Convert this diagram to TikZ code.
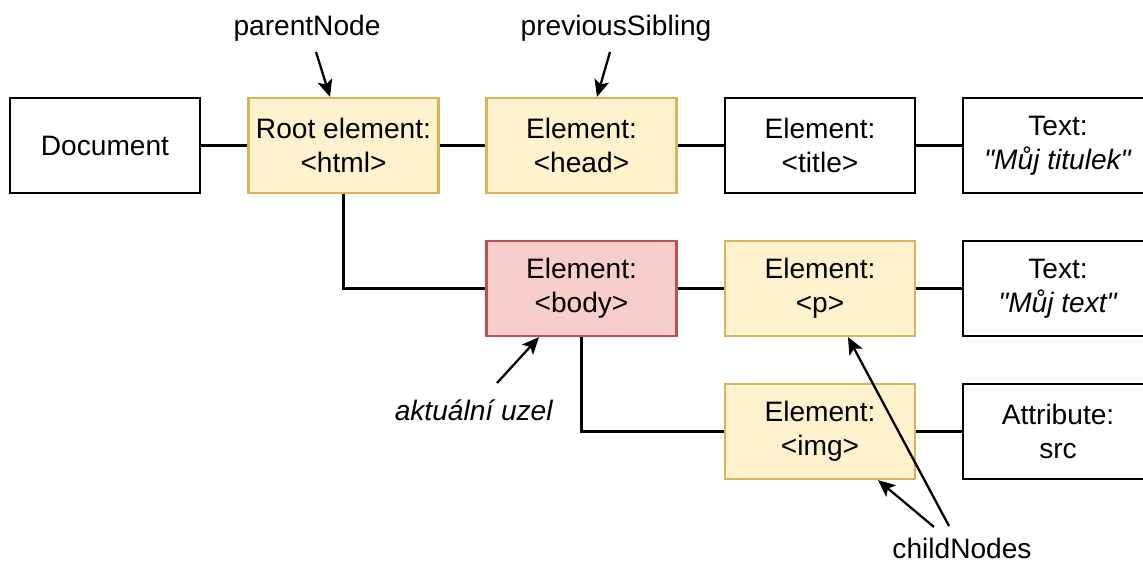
\documentclass[tikz,border=0pt]{standalone}
\usepackage{fontspec}
\setmainfont{Liberation Sans}
\usepackage{tikz}
\usepackage{xcolor}
\usetikzlibrary{
    arrows.meta,
    shapes
}
\definecolor{yfill}{HTML}{FFF2CC}
\definecolor{ydraw}{HTML}{D6B656}
\definecolor{rfill}{HTML}{F8CECC}
\definecolor{rdraw}{HTML}{B85450}
\tikzset{
    domnode/.style={draw, line width=1.3pt, minimum width=3.8cm, minimum height=1.9cm,
        align=center, font=\fontsize{16}{19.4}\selectfont, inner sep=0pt},
    marked/.style={domnode, draw=ydraw, fill=yfill},
    current/.style={domnode, draw=rdraw, fill=rfill},
    link/.style={line width=1.3pt},
    pointer/.style={line width=1.3pt, -{Stealth[length=0.34cm, width=0.3cm, inset=0.08cm]}},
    caption/.style={font=\fontsize{16}{19.4}\selectfont, inner sep=0pt}
}

\begin{document}
\begin{tikzpicture}
            \useasboundingbox (0,0) rectangle (22.86,-11.26);

            \node[domnode] (document) at (2.1,-2.91) {Document};
            \node[marked] (html) at (6.87,-2.91) {Root element:\\<html>};
            \node[marked] (head) at (11.63,-2.91) {Element:\\<head>};
            \node[domnode] (title) at (16.4,-2.91) {Element:\\<title>};
            \node[domnode] (titletext) at (21.16,-2.91) {Text:\\\textit{\textquotedbl Můj titulek\textquotedbl}};

            \node[current] (body) at (11.63,-5.77) {Element:\\<body>};
            \node[marked] (para) at (16.4,-5.77) {Element:\\<p>};
            \node[domnode] (paratext) at (21.16,-5.77) {Text:\\\textit{\textquotedbl Můj text\textquotedbl}};

            \node[marked] (img) at (16.4,-8.63) {Element:\\<img>};
            \node[domnode] (src) at (21.16,-8.63) {Attribute:\\src};

            \draw[link] (document)--(html);
            \draw[link] (html)--(head);
            \draw[link] (head)--(title);
            \draw[link] (title)--(titletext);
            \draw[link] (html.south) |- (body.west);
            \draw[link] (body)--(para);
            \draw[link] (para)--(paratext);
            \draw[link] (body.south) |- (img.west);
            \draw[link] (img)--(src);

            \node[caption] (parentlbl) at (6.14,-0.56) {parentNode};
            \node[caption] (siblinglbl) at (12.32,-0.56) {previousSibling};
            \node[caption] (currentlbl) at (9.48,-8.2) {\textit{aktuální uzel}};
            \node[caption] (childlbl) at (19.24,-10.96) {childNodes};

            \coordinate (parentstart) at (6.32,-1.04);
            \coordinate (siblingstart) at (12.2,-1.04);
            \coordinate (currentstart) at (9.94,-7.66);
            \coordinate (childstart1) at (18.98,-10.52);
            \coordinate (childstart2) at (18.68,-10.54);

            \draw[pointer] (parentstart)--([xshift=-0.27cm]html.north);
            \draw[pointer] (siblingstart)--([xshift=0.31cm]head.north);
            \draw[pointer] (currentstart)--([xshift=-0.85cm]body.south);
            \draw[pointer] (childstart1)--([xshift=0.56cm]para.south);
            \draw[pointer] (childstart2)--([xshift=1.16cm]img.south);
\end{tikzpicture}
\end{document}
